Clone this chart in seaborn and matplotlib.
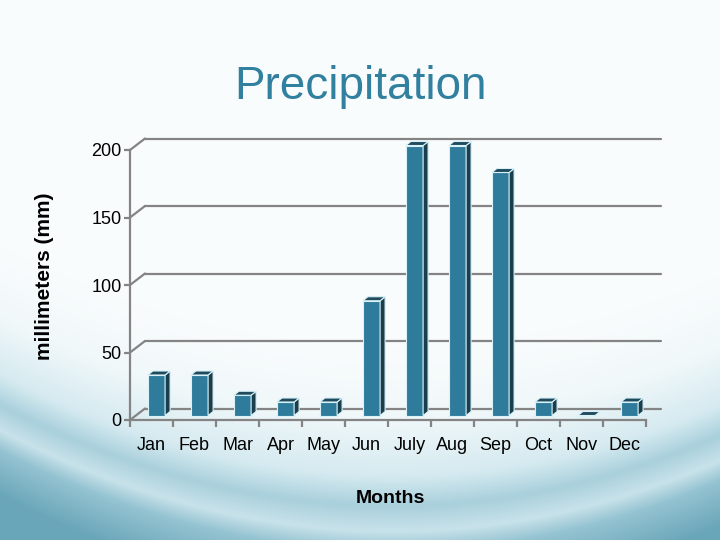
import numpy as np
import pandas as pd
import matplotlib
matplotlib.use("Agg")
import matplotlib.pyplot as plt
import matplotlib.transforms as mtransforms
from matplotlib.patches import Polygon
from matplotlib.colors import to_rgb
import seaborn as sns

# data
months = ["Jan", "Feb", "Mar", "Apr", "May", "Jun", "July", "Aug", "Sep", "Oct", "Nov", "Dec"]
rain_mm = [30, 30, 15, 10, 10, 85, 200, 200, 180, 10, 0, 10]
y_ticks = [0, 50, 100, 150, 200]

df = pd.DataFrame({"month": months, "rain": rain_mm})

FRONT = "#2E7B9C"
SIDE = "#1B3E4D"
TOP = "#1F4B5D"
EDGE = "#D8F2F8"
GRID = "#848484"

sns.set_theme(style="white")
plt.rcParams["font.family"] = ["Liberation Sans", "DejaVu Sans"]

fig = plt.figure(figsize=(7.2, 5.4), dpi=100)

# slide background: white top, teal waves at the bottom
bg = fig.add_axes([0, 0, 1, 1], zorder=-5)
H, W = 540, 720
yy, xx = np.mgrid[0:H, 0:W].astype(float)
u = (xx - 360) / 360
curve = 505 - 85 * u ** 2 + 15 * u
d = yy - curve
stops = [(-160, "#f9fcfd"), (-90, "#f1f8fa"), (-30, "#d5eaf0"), (0, "#a9d0dc"),
         (25, "#c8e2ea"), (45, "#94c3d1"), (90, "#6aa6b9")]
img = np.zeros((H, W, 3))
for c in range(3):
    img[..., c] = np.interp(d, [s[0] for s in stops], [to_rgb(s[1])[c] for s in stops])
bg.imshow(img, aspect="auto", extent=[0, 1, 0, 1], origin="upper")
bg.set_axis_off()

ax = fig.add_axes([130 / 720, 120 / 540, 516 / 720, 270 / 540])
ax.patch.set_alpha(0)
sns.barplot(data=df, x="month", y="rain", color=FRONT, width=0.4, saturation=1,
            edgecolor=EDGE, linewidth=0.8, ax=ax, zorder=3)
ax.set_ylim(0, 200)
ax.set_xlim(-0.5, len(months) - 0.5)

px = fig.dpi_scale_trans
back = ax.transData + mtransforms.ScaledTranslation(15 / 100, 11.5 / 100, px)
mid = ax.transData + mtransforms.ScaledTranslation(5 / 100, 4.5 / 100, px)

# back wall gridlines and the slanted links to the front axis
x0, x1 = ax.get_xlim()
for yv in y_ticks:
    ax.plot([x0, x1], [yv, yv], color=GRID, lw=1.6, transform=back, zorder=1, clip_on=False)
    p_front = ax.transData.transform((x0, yv))
    p_back = back.transform((x0, yv))
    ax.plot([p_front[0], p_back[0]], [p_front[1], p_back[1]], color=GRID, lw=1.6,
            transform=mtransforms.IdentityTransform(), zorder=1, clip_on=False)

# 3D look for each bar: shift the face and add a side and a top
dx, dy = 5, 4
for p in list(ax.patches):
    p.set_transform(mid)
    p.set_clip_on(False)
    (bx0, by0), (bx1, by1) = mid.transform(
        [(p.get_x(), p.get_y()), (p.get_x() + p.get_width(), p.get_y() + p.get_height())])
    side = [(bx1, by0), (bx1 + dx, by0 + dy), (bx1 + dx, by1 + dy), (bx1, by1)]
    top = [(bx0, by1), (bx1, by1), (bx1 + dx, by1 + dy), (bx0 + dx, by1 + dy)]
    for verts, col in ((side, SIDE), (top, TOP)):
        ax.add_patch(Polygon(verts, closed=True, facecolor=col, edgecolor=EDGE, lw=0.8,
                             transform=mtransforms.IdentityTransform(), zorder=3, clip_on=False))

for s in ["top", "right"]:
    ax.spines[s].set_visible(False)
for s in ["left", "bottom"]:
    ax.spines[s].set_color(GRID)
    ax.spines[s].set_linewidth(1.6)

ax.set_yticks(y_ticks)
ax.tick_params(axis="y", which="major", left=True, length=4, width=1.6, color=GRID,
               labelsize=13, pad=2, labelcolor="black")
ax.set_xticks(np.arange(len(months)))
ax.set_xticks(np.arange(-0.5, len(months), 1), minor=True)
ax.tick_params(axis="x", which="major", length=0, pad=12, labelsize=13, labelcolor="black")
ax.tick_params(axis="x", which="minor", bottom=True, length=5, width=1.6, color=GRID)

ax.set_ylabel("millimeters (mm)", fontsize=15, fontweight="bold", color="black")
ax.yaxis.set_label_coords(-0.165, 0.531)
ax.yaxis.label.set_va("center")
ax.set_xlabel("Months", fontsize=14, fontweight="bold", color="black")
ax.xaxis.set_label_coords(0.504, -0.292)
ax.xaxis.label.set_va("center")

fig.text(0.5, 1 - 87 / 540, "Precipitation", ha="center", va="center",
         fontsize=33, color="#31809F")

fig.savefig("out.png", dpi=100)
